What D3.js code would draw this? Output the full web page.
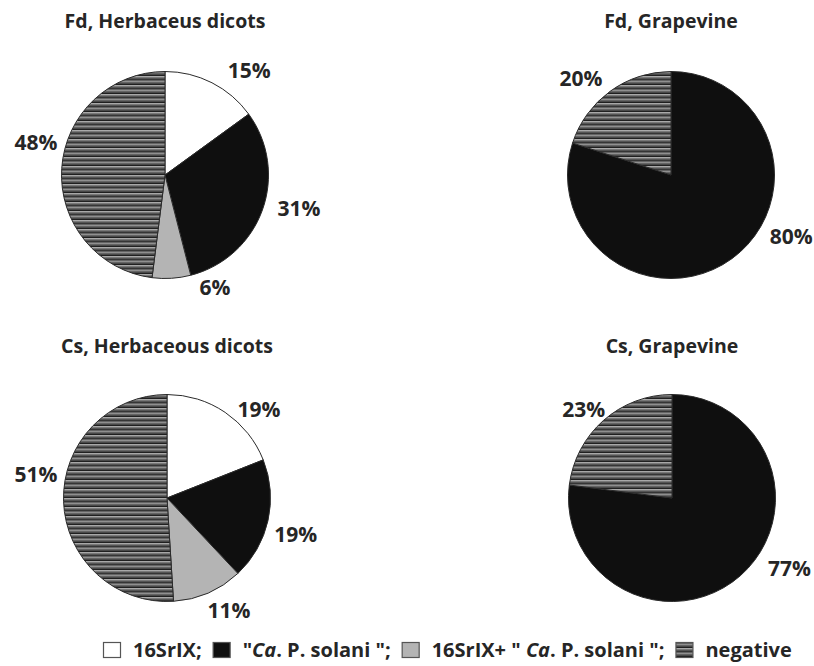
<!DOCTYPE html>
<html>
<head>
<meta charset="utf-8">
<script src="https://cdn.jsdelivr.net/npm/d3@7"></script>
<style>
  body { margin: 0; background: #fff; }
  text { font-family: "Open Sans", Lato, sans-serif; font-weight: bold; fill: #262626; }
</style>
</head>
<body>
<div id="my_dataviz"></div>
<script>
var width = 814
var height = 666

// data
var titles = ["Fd, Herbaceus dicots", "Fd, Grapevine", "Cs, Herbaceous dicots", "Cs, Grapevine"]
var categories = ["16SrIX", "Ca. P. solani", "16SrIX + Ca. P. solani", "negative"]
var fdHerbaceous = [15, 31, 6, 48]
var fdGrapevine = [0, 80, 0, 20]
var csHerbaceous = [19, 19, 11, 51]
var csGrapevine = [0, 77, 0, 23]
var series = [fdHerbaceous, fdGrapevine, csHerbaceous, csGrapevine]

// layout: pie centres and label spots (angle in degrees from 12 o'clock, distance)
var centres = [[165, 175], [671, 175], [167, 498], [672, 498]]
var titleY = [28, 28, 353, 353]
var radius = 103.5
var labelSpots = [
  [[39, 134], [104, 138], [156, 123], [284, 133]],
  [null, [117, 135], null, [317, 132]],
  [[46, 128], [106, 134], [151, 128], [280, 133]],
  [null, [121, 137], null, [315, 125]]
]

var svg = d3.select("#my_dataviz")
  .append("svg")
    .attr("width", width)
    .attr("height", height)

var defs = svg.append("defs")
var pat = defs.append("pattern")
  .attr("id", "stripes")
  .attr("width", 8)
  .attr("height", 4.5)
  .attr("patternUnits", "userSpaceOnUse")
pat.append("rect").attr("width", 8).attr("height", 4.5).attr("fill", "#5a5a5a")
pat.append("rect").attr("y", 0).attr("width", 8).attr("height", 1.3).attr("fill", "#ababab")
pat.append("rect").attr("y", 3.3).attr("width", 8).attr("height", 1.1).attr("fill", "#161616")

var color = d3.scaleOrdinal()
  .domain(categories)
  .range(["#ffffff", "#0f0f0f", "#b4b4b4", "url(#stripes)"])

var pie = d3.pie().sort(null).value(function(d){ return d.value })
var arc = d3.arc().innerRadius(0).outerRadius(radius)

series.forEach(function(vals, i) {
  var rows = vals.map(function(v, j){ return { cat: categories[j], value: v, idx: j } })
  var g = svg.append("g")
    .attr("transform", "translate(" + centres[i][0] + "," + centres[i][1] + ")")

  g.selectAll("path")
    .data(pie(rows).filter(function(d){ return d.data.value > 0 }))
    .enter()
    .append("path")
      .attr("d", arc)
      .attr("fill", function(d){ return color(d.data.cat) })
      .attr("stroke", "#2a2a2a")
      .attr("stroke-width", 1)

  g.selectAll("text.lab")
    .data(rows.filter(function(d){ return d.value > 0 }))
    .enter()
    .append("text")
      .attr("class", "lab")
      .attr("text-anchor", "middle")
      .attr("dy", "0.36em")
      .style("font-size", "21px")
      .attr("x", function(d){ var s = labelSpots[i][d.idx]; return s[1] * Math.sin(s[0] * Math.PI / 180) })
      .attr("y", function(d){ var s = labelSpots[i][d.idx]; return -s[1] * Math.cos(s[0] * Math.PI / 180) })
      .text(function(d){ return d.value + "%" })

  svg.append("text")
    .attr("x", centres[i][0])
    .attr("y", titleY[i])
    .attr("text-anchor", "middle")
    .style("font-size", "19.5px")
    .text(titles[i])
})

// legend
var legendItems = [
  { cat: categories[0], parts: [["16SrIX;", false]] },
  { cat: categories[1], parts: [["\"", false], ["Ca", true], [". P. solani \";", false]] },
  { cat: categories[2], parts: [["16SrIX+ \" ", false], ["Ca", true], [". P. solani \";", false]] },
  { cat: categories[3], parts: [["negative", false]] }
]
var legend = svg.append("g")
var lx = 103
var ly = 642
legendItems.forEach(function(item) {
  legend.append("rect")
    .attr("x", lx + 0.5).attr("y", ly + 0.5)
    .attr("width", 17).attr("height", 15)
    .attr("fill", color(item.cat))
    .attr("stroke", "#555")
    .attr("stroke-width", 1.2)
  lx += 30
  var t = legend.append("text")
    .attr("x", lx).attr("y", ly + 14.5)
    .style("font-size", "20px")
  item.parts.forEach(function(p) {
    t.append("tspan").style("font-style", p[1] ? "italic" : "normal").text(p[0])
  })
  lx += t.node().getComputedTextLength() + 11
})
</script>
</body>
</html>
